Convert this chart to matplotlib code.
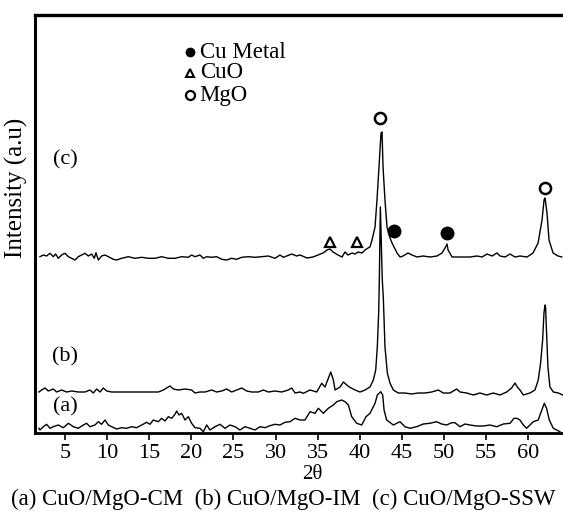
import matplotlib
matplotlib.use("Agg")
import matplotlib.pyplot as plt

plt.rcParams["font.family"] = ["Liberation Serif", "DejaVu Serif"]
plt.rcParams["mathtext.fontset"] = "stix"

# (a) CuO/MgO-CM, 2theta / intensity (a.u.)
tt_a = [1.9, 2.03, 2.43, 2.82, 3.22, 3.61, 4.21, 4.80, 5.40, 5.99, 6.58, 7.18, 7.57, 7.97,
        8.56, 8.96, 9.35, 9.75, 10.15, 10.54, 11.14, 11.73, 12.32, 12.92, 13.51, 14.11,
        14.70, 15.09, 15.49, 16.08, 16.48, 16.88, 17.27, 17.67, 18.06, 18.26, 18.54, 18.86,
        19.25, 19.65, 20.04, 20.44, 21.03, 21.43, 21.83, 22.22, 22.81, 23.41, 24.00, 24.60,
        25.19, 25.78, 26.38, 26.97, 27.57, 28.16, 28.75, 29.35, 29.94, 30.53, 31.13, 31.72,
        32.32, 32.91, 33.50, 34.10, 34.69, 35.09, 35.68, 36.27, 36.87, 37.27, 37.86, 38.26,
        38.65, 39.05, 39.64, 40.24, 40.75, 41.22, 41.82, 42.09, 42.49, 42.73, 42.89, 43.20,
        43.99, 44.78, 45.37, 45.97, 46.76, 47.55, 48.34, 49.13, 49.72, 50.32, 50.91, 51.31,
        51.91, 52.50, 53.09, 53.88, 54.68, 55.47, 56.26, 57.06, 57.85, 58.32, 58.64, 59.03,
        59.43, 59.82, 60.61, 61.20, 61.48, 61.92, 62.19, 62.51, 62.99, 63.78]
int_a = [4.7, 3, 6.3, 8.7, 4.7, 6.3, 8, 5.3, 9.7, 6.3, 4.7, 8, 9.7, 6.3,
         8, 11.3, 8.7, 13, 8, 6.3, 4, 5.3, 4.7, 6.3, 5.3, 8,
         10.7, 8.7, 13, 11.3, 14.7, 12, 16.3, 14.7, 18.7, 22, 18, 19.7,
         13, 16.3, 9.7, 5.3, 4.7, 1.3, 8, 3, 6.3, 8.7, 4.7, 8,
         6.3, 3, 6.3, 4.7, 3, 6.3, 5.3, 7.3, 8.7, 8, 10.7, 11.3,
         14.7, 13, 13, 21.3, 19.7, 24.7, 19.7, 24.7, 28, 31.3, 33, 31.3,
         28, 16.3, 9.7, 8, 16.3, 19.7, 29.7, 38, 41.3, 38, 23, 13,
         8, 11.3, 6.3, 4.7, 6.3, 9, 9.7, 11.3, 9, 8, 10.3, 10.3,
         6.3, 9, 8, 7, 7, 8, 6.3, 9, 9.7, 14.7, 14.7, 13,
         8, 4.7, 11.3, 13, 19.7, 29.7, 24.7, 13, 4.7, 1.3]

# (b) CuO/MgO-IM
tt_b = [1.9, 2.23, 2.62, 3.02, 3.61, 4.01, 4.60, 5.20, 5.79, 6.58, 7.38, 7.97, 8.37, 8.76,
        9.16, 9.55, 9.95, 10.54, 11.33, 12.13, 13.31, 14.50, 15.29, 16.08, 16.68, 17.07,
        17.47, 17.87, 18.46, 19.25, 20.04, 20.44, 21.03, 21.63, 22.42, 23.01, 23.61, 24.20,
        24.79, 25.39, 25.98, 26.58, 27.17, 27.96, 28.56, 29.15, 29.94, 30.73, 31.52, 31.92,
        32.32, 32.91, 33.31, 34.10, 34.89, 35.49, 35.88, 36.56, 36.87, 37.07, 37.66, 38.06,
        38.46, 38.77, 39.45, 40.04, 40.63, 41.22, 41.62, 41.90, 42.09, 42.25, 42.33, 42.45,
        42.68, 42.80, 43.00, 43.28, 43.59, 43.99, 44.58, 45.37, 46.16, 46.96, 47.75, 48.54,
        49.33, 49.93, 50.72, 51.51, 51.91, 52.70, 53.49, 54.28, 55.07, 55.87, 56.66, 57.45,
        58.04, 58.44, 58.72, 59.03, 59.43, 60.22, 60.81, 61.20, 61.48, 61.72, 61.88, 62.00,
        62.07, 62.19, 62.35, 62.59, 62.99, 63.58, 64.1]
int_b = [41, 43, 45, 42, 44, 41, 43, 41, 42, 41, 41, 43, 40, 44,
         41, 45, 42, 41, 41, 41, 41, 41, 41, 41, 43, 45,
         47, 44, 43, 44, 43, 40, 41, 41, 43, 41, 42, 44,
         41, 43, 45, 42, 41, 41, 43, 41, 42, 41, 43, 45,
         40, 41, 39.7, 43, 41, 49.7, 46, 61, 53, 43, 46, 51,
         48, 46, 43, 41, 43, 46, 53, 63, 86, 120, 153, 226,
         153, 136, 86, 60, 50, 43, 40, 40, 39, 40, 40, 41,
         43, 40, 40, 44, 41, 40, 38, 40, 38, 40, 38, 41,
         45, 50, 46, 43, 38, 40, 43, 53, 70, 93, 120, 128,
         126, 100, 66, 46, 41, 40, 38]

# (c) CuO/MgO-SSW
tt_c = [2.03, 2.43, 2.82, 3.22, 3.61, 3.89, 4.21, 4.60, 5.00, 5.40, 5.79, 6.19, 6.58, 6.98,
        7.38, 7.77, 8.17, 8.48, 8.68, 8.96, 9.35, 9.75, 10.15, 10.74, 11.14, 11.73, 12.52,
        13.31, 14.11, 14.90, 15.69, 16.48, 17.27, 18.06, 18.86, 19.65, 20.04, 20.44, 21.03,
        21.43, 21.83, 22.42, 23.01, 23.61, 24.20, 24.79, 25.39, 25.98, 26.77, 27.57, 28.36,
        29.15, 29.94, 30.53, 30.93, 31.33, 31.92, 32.51, 32.91, 33.74, 34.45, 35.05, 35.64,
        36.12, 36.47, 36.83, 37.42, 37.90, 38.25, 38.61, 39.09, 39.44, 39.80, 40.27, 40.63,
        40.99, 41.22, 41.46, 41.82, 42.05, 42.29, 42.53, 42.65, 42.77, 43.00, 43.24, 43.60,
        43.84, 44.43, 44.79, 45.14, 45.74, 46.21, 46.81, 47.52, 48.35, 49.18, 49.77, 50.13,
        50.37, 50.49, 50.96, 51.56, 52.27, 53.10, 53.93, 54.53, 55.12, 55.71, 56.31, 56.66,
        57.26, 57.85, 58.44, 59.04, 59.87, 60.23, 60.58, 61.18, 61.65, 61.89, 62.01, 62.24,
        62.48, 62.96, 63.55, 64.0]
int_c = [176.3, 178, 177, 179.7, 176.3, 179, 174.7, 178, 179.7, 176.3, 174.7, 173, 176.3, 178,
         179.7, 177, 179, 174.7, 180.3, 173, 177, 178, 176.3, 173.7, 173, 174.7, 176.3,
         174.7, 175.7, 174.7, 174.7, 176.3, 174.7, 174.7, 176.3, 175.7, 178, 176.3, 178,
         174.7, 176.3, 175.7, 176.3, 173.7, 173, 174.7, 173.7, 175.7, 176.3, 175.7, 176.3,
         177, 174.7, 178, 175.7, 177, 179, 177, 178, 175, 176, 178, 180,
         183, 184, 181, 178, 176, 181, 178, 180, 179, 181, 180, 183,
         185, 186, 193, 206, 233, 266, 300, 301, 266, 233, 206, 195,
         190, 180, 176, 177, 180, 178, 176, 177, 176, 177, 180, 185,
         189, 183, 176, 176, 176, 176, 177, 176, 179, 177, 180, 177,
         176, 179, 176, 177, 176, 178, 180, 190, 213, 233, 235, 220,
         193, 180, 177, 176]

# phase markers over curve (c)
mgo_tt, mgo_int = [42.41, 62.01], [315, 245]
cuo_tt, cuo_int = [36.47, 39.68], [191, 191]
cu_tt, cu_int = [44.07, 50.37], [202, 200]

legend_labels = ["Cu Metal", "CuO", "MgO"]
legend_int = [381, 360, 338]
curve_labels = ["(a)", "(b)", "(c)"]
curve_label_int = [26, 76, 273]
xticks = [5, 10, 15, 20, 25, 30, 35, 40, 45, 50, 55, 60]

fig = plt.figure(figsize=(5.63, 5.15), dpi=100)
ax = fig.add_axes([35 / 563, 82 / 515, 528 / 563, 418 / 515])

for tt, yy in [(tt_a, int_a), (tt_b, int_b), (tt_c, int_c)]:
    ax.plot(tt, yy, color="black", lw=1.0)

ax.plot(mgo_tt, mgo_int, "o", ms=8, mfc="white", mec="black", mew=1.8, ls="none")
ax.plot(cuo_tt, cuo_int, "^", ms=7, mfc="white", mec="black", mew=1.6, ls="none")
ax.plot(cu_tt, cu_int, "o", ms=9, mfc="black", mec="black", ls="none")

# hand-made legend in the upper part
styles = [dict(marker="o", ms=6, mfc="black", mec="black"),
          dict(marker="^", ms=6, mfc="white", mec="black", mew=1.5),
          dict(marker="o", ms=6.5, mfc="white", mec="black", mew=1.6)]
for lab, yy, st in zip(legend_labels, legend_int, styles):
    ax.plot([19.85], [yy], ls="none", **st)
    ax.text(21.0, yy, lab, fontsize=16.5, va="center", ha="left")

for lab, yy in zip(curve_labels, curve_label_int):
    ax.text(5.0, yy, lab, fontsize=16, va="center", ha="center")

ax.set_xlim(1.44, 64.14)
ax.set_ylim(0, 418)
ax.set_xticks(xticks)
ax.set_yticks([])
ax.tick_params(axis="x", direction="out", length=5, width=1.2, labelsize=16, pad=3)
ax.spines["right"].set_visible(False)
ax.spines["left"].set_linewidth(2.2)
ax.spines["top"].set_linewidth(2.4)
ax.spines["bottom"].set_linewidth(2.0)

ax.set_xlabel("2θ", fontsize=15, labelpad=0)
ax.xaxis.set_label_coords((312 - 35) / 528, -0.077)
ax.set_ylabel("Intensity (a.u)", fontsize=18, labelpad=4)
ax.yaxis.set_label_coords(-0.014, (433 - 188) / 418)
fig.text(0.503, 16 / 515, "(a) CuO/MgO-CM  (b) CuO/MgO-IM  (c) CuO/MgO-SSW",
         fontsize=16.5, ha="center", va="center")

fig.savefig("out.png", dpi=100)
